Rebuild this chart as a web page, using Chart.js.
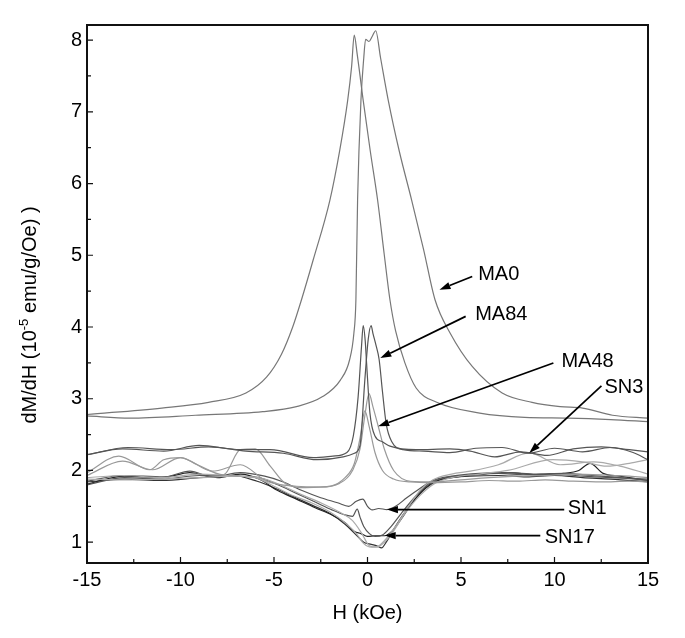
<!DOCTYPE html>
<html lang="en">
<head>
  <meta charset="UTF-8" />
  <title>dM/dH vs H</title>
  <script src="https://cdn.jsdelivr.net/npm/chart.js@4.4.0/dist/chart.umd.min.js"></script>
  <style>
    body   { margin:0; background:#fff; }
    #chart { display:block; }
  </style>
</head>
<body>
  <canvas id="chart" width="685" height="638"></canvas>

  <script>
    /* ── data (H in kOe, dM/dH in 1e-5 emu/g/Oe), two field branches per sample ── */
    const xTicks = [-15, -10, -5, 0, 5, 10, 15];
    const yTicks = [1, 2, 3, 4, 5, 6, 7, 8];

    const ma0aX  = [-15, -11, -8.5, -6.5, -5.4, -4.6, -4.0, -3.53, -2.91, -2.01, -1.48, -1.06, -0.85, -0.71, -0.55, -0.23, 0.15, 0.54, 0.9, 1.2, 1.5, 2.0, 2.6, 3.7, 6.0, 8.4, 10.7, 13, 15];
    const ma0aY  = [2.78, 2.87, 2.95, 3.08, 3.3, 3.62, 4.0, 4.38, 4.93, 5.77, 6.47, 7.16, 7.63, 8.07, 7.8, 7.16, 6.45, 5.77, 5.0, 4.38, 3.95, 3.5, 3.15, 2.95, 2.8, 2.74, 2.73, 2.71, 2.68];
    const ma0bX  = [-15, -12.7, -9.2, -5.6, -3.8, -2.4, -1.45, -0.96, -0.73, -0.62, -0.53, -0.35, -0.2, -0.1, 0.08, 0.25, 0.44, 0.7, 1.11, 1.7, 2.36, 3.0, 3.61, 4.43, 5.6, 7.2, 8.8, 10.3, 11.5, 13.1, 15];
    const ma0bY  = [2.76, 2.73, 2.77, 2.82, 2.89, 3.03, 3.26, 3.54, 3.91, 4.38, 5.77, 7.16, 7.75, 8.01, 7.98, 8.05, 8.13, 7.75, 7.16, 6.45, 5.77, 5.08, 4.38, 3.91, 3.45, 3.08, 2.95, 2.89, 2.87, 2.77, 2.73];

    const ma84aX = [-15, -13.1, -10.9, -9.0, -6.8, -5.2, -2.9, -1.85, -1.1, -0.76, -0.5, -0.32, -0.23, -0.12, -0.05, 0.13, 0.4, 0.8, 1.2, 2.6, 4.4, 5.5, 6.8, 8.2, 9.6, 11, 12.5, 14, 15];
    const ma84aY = [2.22, 2.30, 2.27, 2.35, 2.29, 2.29, 2.18, 2.20, 2.25, 2.48, 3.03, 3.73, 4.02, 3.8, 3.5, 2.8, 2.48, 2.4, 2.34, 2.29, 2.30, 2.27, 2.19, 2.26, 2.21, 2.3, 2.33, 2.29, 2.26];
    const ma84bX = [-15, -12.8, -10.5, -8.5, -6.5, -4.5, -2.7, -1.3, -0.7, -0.4, -0.14, 0.04, 0.19, 0.3, 0.45, 0.62, 0.8, 1.0, 1.3, 1.9, 3, 4.4, 5.8, 7.2, 8.6, 10, 11.5, 13, 14.2, 15];
    const ma84bY = [2.22, 2.32, 2.29, 2.33, 2.27, 2.24, 2.15, 2.19, 2.24, 2.35, 3.27, 3.83, 4.02, 3.9, 3.75, 3.55, 3.1, 2.65, 2.4, 2.29, 2.27, 2.25, 2.31, 2.32, 2.24, 2.31, 2.26, 2.32, 2.25, 2.15];

    const ma48aX = [-15, -13.3, -11.65, -10.9, -10.0, -9.1, -7.7, -6.8, -6.0, -5.2, -4.4, -3.3, -2.0, -1.2, -0.7, -0.4, -0.14, 0.1, 0.4, 0.8, 1.4, 2.3, 3.5, 5.0, 6.5, 8, 9.5, 11, 12.5, 14, 15];
    const ma48aY = [1.97, 2.2, 2.01, 2.15, 2.18, 2.08, 1.94, 2.29, 2.3, 2.06, 1.82, 1.76, 1.78, 1.9, 2.1, 2.45, 2.83, 2.6, 2.25, 2.0, 1.88, 1.84, 1.83, 1.84, 1.86, 1.85, 1.87, 1.85, 1.84, 1.85, 1.84];
    const ma48bX = [-15, -13.1, -11.5, -10, -8.3, -6.8, -5.4, -3.8, -2.5, -1.5, -0.8, -0.4, -0.15, 0.08, 0.3, 0.57, 0.9, 1.4, 2.3, 3.5, 5, 6.5, 8, 9.5, 11, 12.5, 14, 15];
    const ma48bY = [1.93, 2.13, 2.01, 2.18, 1.99, 2.08, 1.85, 1.78, 1.77, 1.82, 2.0, 2.3, 2.75, 3.07, 2.88, 2.62, 2.3, 2.0, 1.85, 1.84, 1.87, 1.9, 1.92, 1.93, 1.95, 1.94, 1.92, 1.9];

    const sn3aX  = [-15, -13, -11, -9, -7.5, -6, -5, -4, -3, -2, -1.2, -0.6, -0.2, 0.2, 0.6, 1.0, 1.5, 2.2, 2.8, 3.5, 4.5, 5.5, 7, 8.65, 10.3, 12.1, 13.5, 15];
    const sn3aY  = [1.9, 1.93, 1.9, 1.95, 1.93, 1.9, 1.78, 1.65, 1.55, 1.42, 1.27, 1.12, 0.98, 0.93, 0.95, 1.05, 1.22, 1.5, 1.72, 1.87, 1.95, 1.99, 2.08, 2.245, 2.08, 2.12, 2.06, 1.95];
    const sn3bX  = [-15, -13, -11, -9, -7, -5.5, -4.5, -3.5, -2.5, -1.5, -0.8, -0.3, 0.1, 0.5, 0.9, 1.3, 2, 2.8, 3.6, 4.5, 6, 7.5, 9.9, 11.5, 12.8, 14, 15];
    const sn3bY  = [1.88, 1.87, 1.88, 1.9, 1.92, 1.88, 1.78, 1.66, 1.55, 1.42, 1.3, 1.12, 0.95, 0.93, 1.0, 1.12, 1.4, 1.65, 1.82, 1.9, 1.95, 2.0, 2.15, 2.12, 2.06, 2.1, 2.15];

    const sn1aX  = [-15, -13.1, -10.9, -9.5, -8.3, -6.8, -5.5, -4.5, -3.5, -2.5, -1.6, -1.0, -0.6, -0.25, 0.0, 0.25, 0.6, 1.04, 1.5, 2.1, 2.8, 3.5, 4.5, 6, 7.5, 9, 10.5, 12, 13.5, 15];
    const sn1aY  = [1.85, 1.93, 1.91, 1.99, 1.91, 1.97, 1.92, 1.84, 1.72, 1.62, 1.55, 1.5, 1.57, 1.6, 1.5, 1.45, 1.47, 1.455, 1.5, 1.62, 1.75, 1.86, 1.92, 1.96, 1.97, 1.95, 1.96, 1.93, 1.9, 1.86];
    const sn1bX  = [-15, -13, -11, -9, -7, -5.8, -4.8, -3.8, -2.8, -1.9, -1.2, -0.8, -0.55, -0.4, -0.2, 0.1, 0.4, 0.8, 1.2, 1.8, 2.5, 3.3, 4.2, 5.5, 7, 8.5, 10, 11.5, 13, 15];
    const sn1bY  = [1.8, 1.9, 1.88, 1.93, 1.92, 1.9, 1.8, 1.68, 1.56, 1.45, 1.38, 1.36, 1.46, 1.35, 1.22, 1.12, 1.08, 1.1, 1.2, 1.4, 1.62, 1.82, 1.9, 1.93, 1.96, 1.94, 1.95, 1.92, 1.9, 1.88];

    const sn17aX = [-15, -13, -11, -9.5, -8, -6.8, -5.8, -4.8, -3.8, -2.8, -1.9, -1.2, -0.7, -0.35, 0, 0.4, 0.92, 1.3, 1.8, 2.4, 3.1, 3.8, 4.8, 6, 7.5, 9, 10.5, 11.3, 11.9, 12.6, 13.5, 15];
    const sn17aY = [1.81, 1.92, 1.9, 1.97, 1.9, 1.95, 1.88, 1.72, 1.6, 1.48, 1.38, 1.27, 1.15, 1.12, 1.08, 1.09, 1.09, 1.15, 1.32, 1.55, 1.75, 1.86, 1.91, 1.95, 1.97, 1.94, 1.96, 2.0, 2.1, 1.96, 1.92, 1.86];
    const sn17bX = [-15, -13, -11, -9, -7.2, -5.9, -5, -4, -3, -2, -1.2, -0.6, -0.2, 0.2, 0.5, 0.75, 1.0, 1.4, 2.0, 2.7, 3.4, 4.2, 5.5, 7, 8.5, 10, 11.5, 13, 15];
    const sn17bY = [1.84, 1.88, 1.86, 1.9, 1.93, 1.85, 1.76, 1.64, 1.52, 1.4, 1.25, 1.1, 1.0, 0.97, 0.95, 0.92, 1.0, 1.18, 1.42, 1.65, 1.82, 1.89, 1.92, 1.93, 1.91, 1.93, 1.9, 1.88, 1.84];

    /* arrow labels: text, tail [x,y], tip [x,y], text anchor [x,y] (data units) */
    const notes = [
      { text:'MA0',  tail:[5.60, 4.705], tip:[3.85, 4.52],  at:[5.92, 4.73] },
      { text:'MA84', tail:[5.25, 4.148], tip:[0.686, 3.568], at:[5.76, 4.18] },
      { text:'MA48', tail:[9.94, 3.499], tip:[0.57, 2.616], at:[10.37, 3.52] },
      { text:'SN3',  tail:[12.51, 3.18], tip:[8.65, 2.245], at:[12.67, 3.16] },
      { text:'SN1',  tail:[10.52, 1.455], tip:[1.04, 1.455], at:[10.71, 1.465] },
      { text:'SN17', tail:[9.24, 1.093], tip:[0.92, 1.093], at:[9.48, 1.07] }
    ];

    const FONT = '"Liberation Sans", Arial, sans-serif';
    const pts  = (xs, ys) => xs.map((x, i) => ({ x, y: ys[i] }));
    const line = (xs, ys, color) => ({
      data: pts(xs, ys), showLine:true, borderColor:color, borderWidth:1.2,
      pointRadius:0, cubicInterpolationMode:'monotone', fill:false
    });

    const datasets = [
      line(ma0aX,  ma0aY,  '#777'), line(ma0bX,  ma0bY,  '#777'),
      line(ma84aX, ma84aY, '#555'), line(ma84bX, ma84bY, '#555'),
      line(ma48aX, ma48aY, '#999'), line(ma48bX, ma48bY, '#999'),
      line(sn3aX,  sn3aY,  '#aaa'), line(sn3bX,  sn3bY,  '#aaa'),
      line(sn1aX,  sn1aY,  '#555'), line(sn1bX,  sn1bY,  '#555'),
      line(sn17aX, sn17aY, '#222'), line(sn17bX, sn17bY, '#333')
    ];

    /* frame, inward ticks, arrows, y title */
    const decor = {
      id:'decor',
      afterDraw(chart){
        const {ctx, chartArea:a, scales:{x, y}} = chart;
        ctx.save();
        ctx.strokeStyle = '#111';
        ctx.lineWidth = 2;
        ctx.strokeRect(a.left, a.top, a.right - a.left, a.bottom - a.top);

        ctx.lineWidth = 1.2;
        ctx.beginPath();
        const xv = x.ticks.map(t => t.value);
        xv.forEach((v, i) => {
          const px = x.getPixelForValue(v);
          ctx.moveTo(px, a.bottom); ctx.lineTo(px, a.bottom - 6);
          if (i < xv.length - 1) {
            const pm = x.getPixelForValue((v + xv[i+1]) / 2);
            ctx.moveTo(pm, a.bottom); ctx.lineTo(pm, a.bottom - 4);
          }
        });
        const yv = y.ticks.map(t => t.value);
        yv.forEach((v, i) => {
          const py = y.getPixelForValue(v);
          ctx.moveTo(a.left, py); ctx.lineTo(a.left + 6, py);
          if (i < yv.length - 1) {
            const pm = y.getPixelForValue((v + yv[i+1]) / 2);
            ctx.moveTo(a.left, pm); ctx.lineTo(a.left + 4, pm);
          }
        });
        ctx.stroke();

        // arrows + labels
        ctx.fillStyle = '#000';
        ctx.strokeStyle = '#000';
        ctx.font = '20px ' + FONT;
        ctx.textBaseline = 'middle';
        ctx.textAlign = 'left';
        notes.forEach(n => {
          const x0 = x.getPixelForValue(n.tail[0]), y0 = y.getPixelForValue(n.tail[1]);
          const x1 = x.getPixelForValue(n.tip[0]),  y1 = y.getPixelForValue(n.tip[1]);
          const ang = Math.atan2(y1 - y0, x1 - x0);
          const L = 11, W = 3.6;
          const bx = x1 - L * Math.cos(ang), by = y1 - L * Math.sin(ang);
          ctx.lineWidth = 1.7;
          ctx.beginPath(); ctx.moveTo(x0, y0); ctx.lineTo(bx, by); ctx.stroke();
          ctx.beginPath();
          ctx.moveTo(x1, y1);
          ctx.lineTo(bx + W * Math.sin(ang), by - W * Math.cos(ang));
          ctx.lineTo(bx - W * Math.sin(ang), by + W * Math.cos(ang));
          ctx.closePath(); ctx.fill();
          ctx.fillText(n.text, x.getPixelForValue(n.at[0]), y.getPixelForValue(n.at[1]));
        });

        // y title with superscript
        const parts = [['dM/dH (10', 20, 0], ['-5', 13, -8], [' emu/g/Oe) )', 20, 0]];
        let total = 0;
        parts.forEach(p => { ctx.font = p[1] + 'px ' + FONT; total += ctx.measureText(p[0]).width; });
        ctx.translate(36, 315);
        ctx.rotate(-Math.PI / 2);
        ctx.textBaseline = 'alphabetic';
        let cx = -total / 2;
        parts.forEach(p => {
          ctx.font = p[1] + 'px ' + FONT;
          ctx.fillText(p[0], cx, p[2]);
          cx += ctx.measureText(p[0]).width;
        });
        ctx.restore();
      }
    };

    new Chart(document.getElementById('chart'), {
      type:'scatter',
      data:{ datasets },
      plugins:[decor],
      options:{
        responsive:false,
        animation:false,
        devicePixelRatio:1,
        layout:{ padding:{ top:25, right:37, left:0, bottom:0 } },
        plugins:{ legend:{display:false}, tooltip:{enabled:false} },
        scales:{
          x:{
            type:'linear', min:-15, max:15,
            afterBuildTicks: s => { s.ticks = xTicks.map(v => ({ value:v })); },
            ticks:{ font:{family:FONT, size:20}, color:'#000', padding:5, maxRotation:0 },
            grid:{ display:false, drawTicks:false },
            border:{ display:false },
            title:{ display:true, text:'H (kOe)', color:'#000', font:{family:FONT, size:20}, padding:{bottom:13} },
            afterFit: s => { s.height = 75; }
          },
          y:{
            type:'linear', min:0.71, max:8.21,
            afterBuildTicks: s => { s.ticks = yTicks.map(v => ({ value:v })); },
            ticks:{ font:{family:FONT, size:20}, color:'#000', padding:5 },
            grid:{ display:false, drawTicks:false },
            border:{ display:false },
            afterFit: s => { s.width = 87; }
          }
        }
      }
    });
  </script>
</body>
</html>
